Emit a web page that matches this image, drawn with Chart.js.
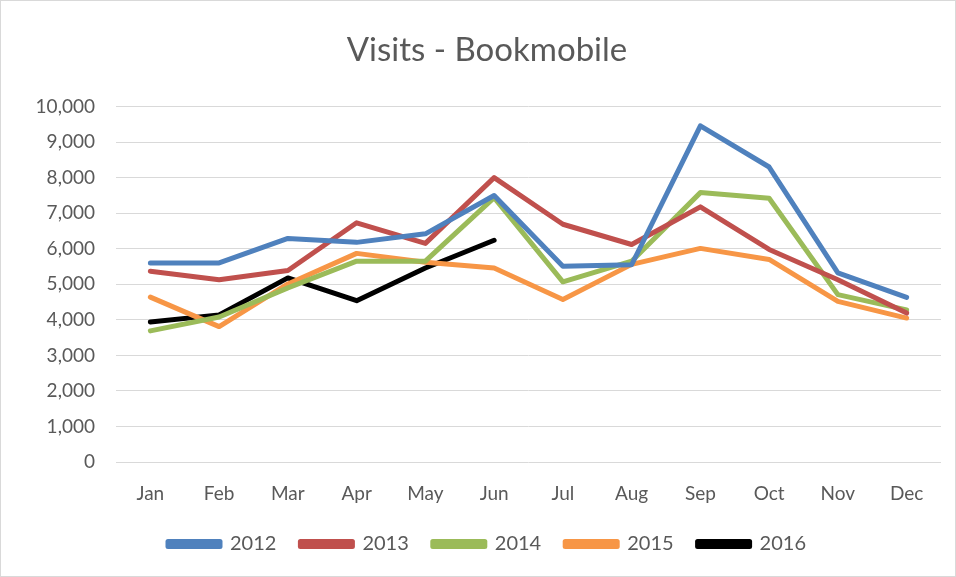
<!DOCTYPE html>
<html>
<head>
<meta charset="utf-8">
<script src="https://cdn.jsdelivr.net/npm/chart.js@4/dist/chart.umd.min.js"></script>
<style>
  html, body { margin: 0; padding: 0; background: #fff; }
  #wrap { position: relative; width: 954px; height: 575px; border: 1px solid #d9d9d9; }
</style>
</head>
<body>
<div id="wrap"><canvas id="visits-chart"></canvas></div>
<script>
// data
const months = ["Jan", "Feb", "Mar", "Apr", "May", "Jun", "Jul", "Aug", "Sep", "Oct", "Nov", "Dec"];
const visits2012 = [5600, 5600, 6290, 6180, 6420, 7500, 5510, 5550, 9460, 8300, 5320, 4630];
const visits2013 = [5370, 5130, 5390, 6730, 6150, 8000, 6690, 6120, 7180, 5980, 5130, 4190];
const visits2014 = [3690, 4080, 4900, 5650, 5650, 7440, 5070, 5650, 7580, 7420, 4710, 4280];
const visits2015 = [4640, 3810, 5010, 5870, 5620, 5460, 4570, 5560, 6010, 5700, 4520, 4050];
const visits2016 = [3940, 4140, 5180, 4540, 5460, 6240, null, null, null, null, null, null];

const textColor = "#595959";
const fontFamily = "Lato, 'Open Sans', sans-serif";

function series(label, data, color) {
  return {
    label: label,
    data: data,
    borderColor: color,
    backgroundColor: color,
    borderWidth: 5,
    borderCapStyle: "round",
    borderJoinStyle: "round",
    pointRadius: 0,
    pointHoverRadius: 0,
    tension: 0,
    spanGaps: false
  };
}

const config = {
  type: "line",
  data: {
    labels: months,
    datasets: [
      series("2012", visits2012, "#4f81bd"),
      series("2013", visits2013, "#c0504d"),
      series("2014", visits2014, "#9bbb59"),
      series("2015", visits2015, "#f79646"),
      series("2016", visits2016, "#000000")
    ]
  },
  options: {
    responsive: true,
    maintainAspectRatio: false,
    animation: false,
    layout: { padding: { left: 32, right: 14, top: 0, bottom: 12 } },
    plugins: {
      title: {
        display: true,
        text: "Visits - Bookmobile",
        color: textColor,
        font: { family: fontFamily, size: 33, weight: "normal" },
        padding: { top: 30, bottom: 36 }
      },
      legend: {
        position: "bottom",
        labels: {
          color: textColor,
          font: { family: fontFamily, size: 20 },
          boxWidth: 52,
          boxHeight: 5,
          padding: 24
        }
      },
      tooltip: { enabled: false }
    },
    scales: {
      x: {
        offset: true,
        grid: { display: false },
        border: { display: false },
        ticks: { color: textColor, font: { family: fontFamily, size: 19 }, padding: 12 },
        afterFit: function (scale) { scale.height = 48; }
      },
      y: {
        min: 0,
        max: 10000,
        grid: { color: "#d9d9d9", lineWidth: 1, drawTicks: false },
        border: { display: false },
        ticks: {
          stepSize: 1000,
          color: textColor,
          font: { family: fontFamily, size: 19 },
          padding: 21,
          callback: function (v) { return v.toLocaleString("en-US"); }
        },
        afterFit: function (scale) { scale.width = 83; }
      }
    }
  }
};

const visitsChart = new Chart(document.getElementById("visits-chart"), config);
</script>
</body>
</html>
